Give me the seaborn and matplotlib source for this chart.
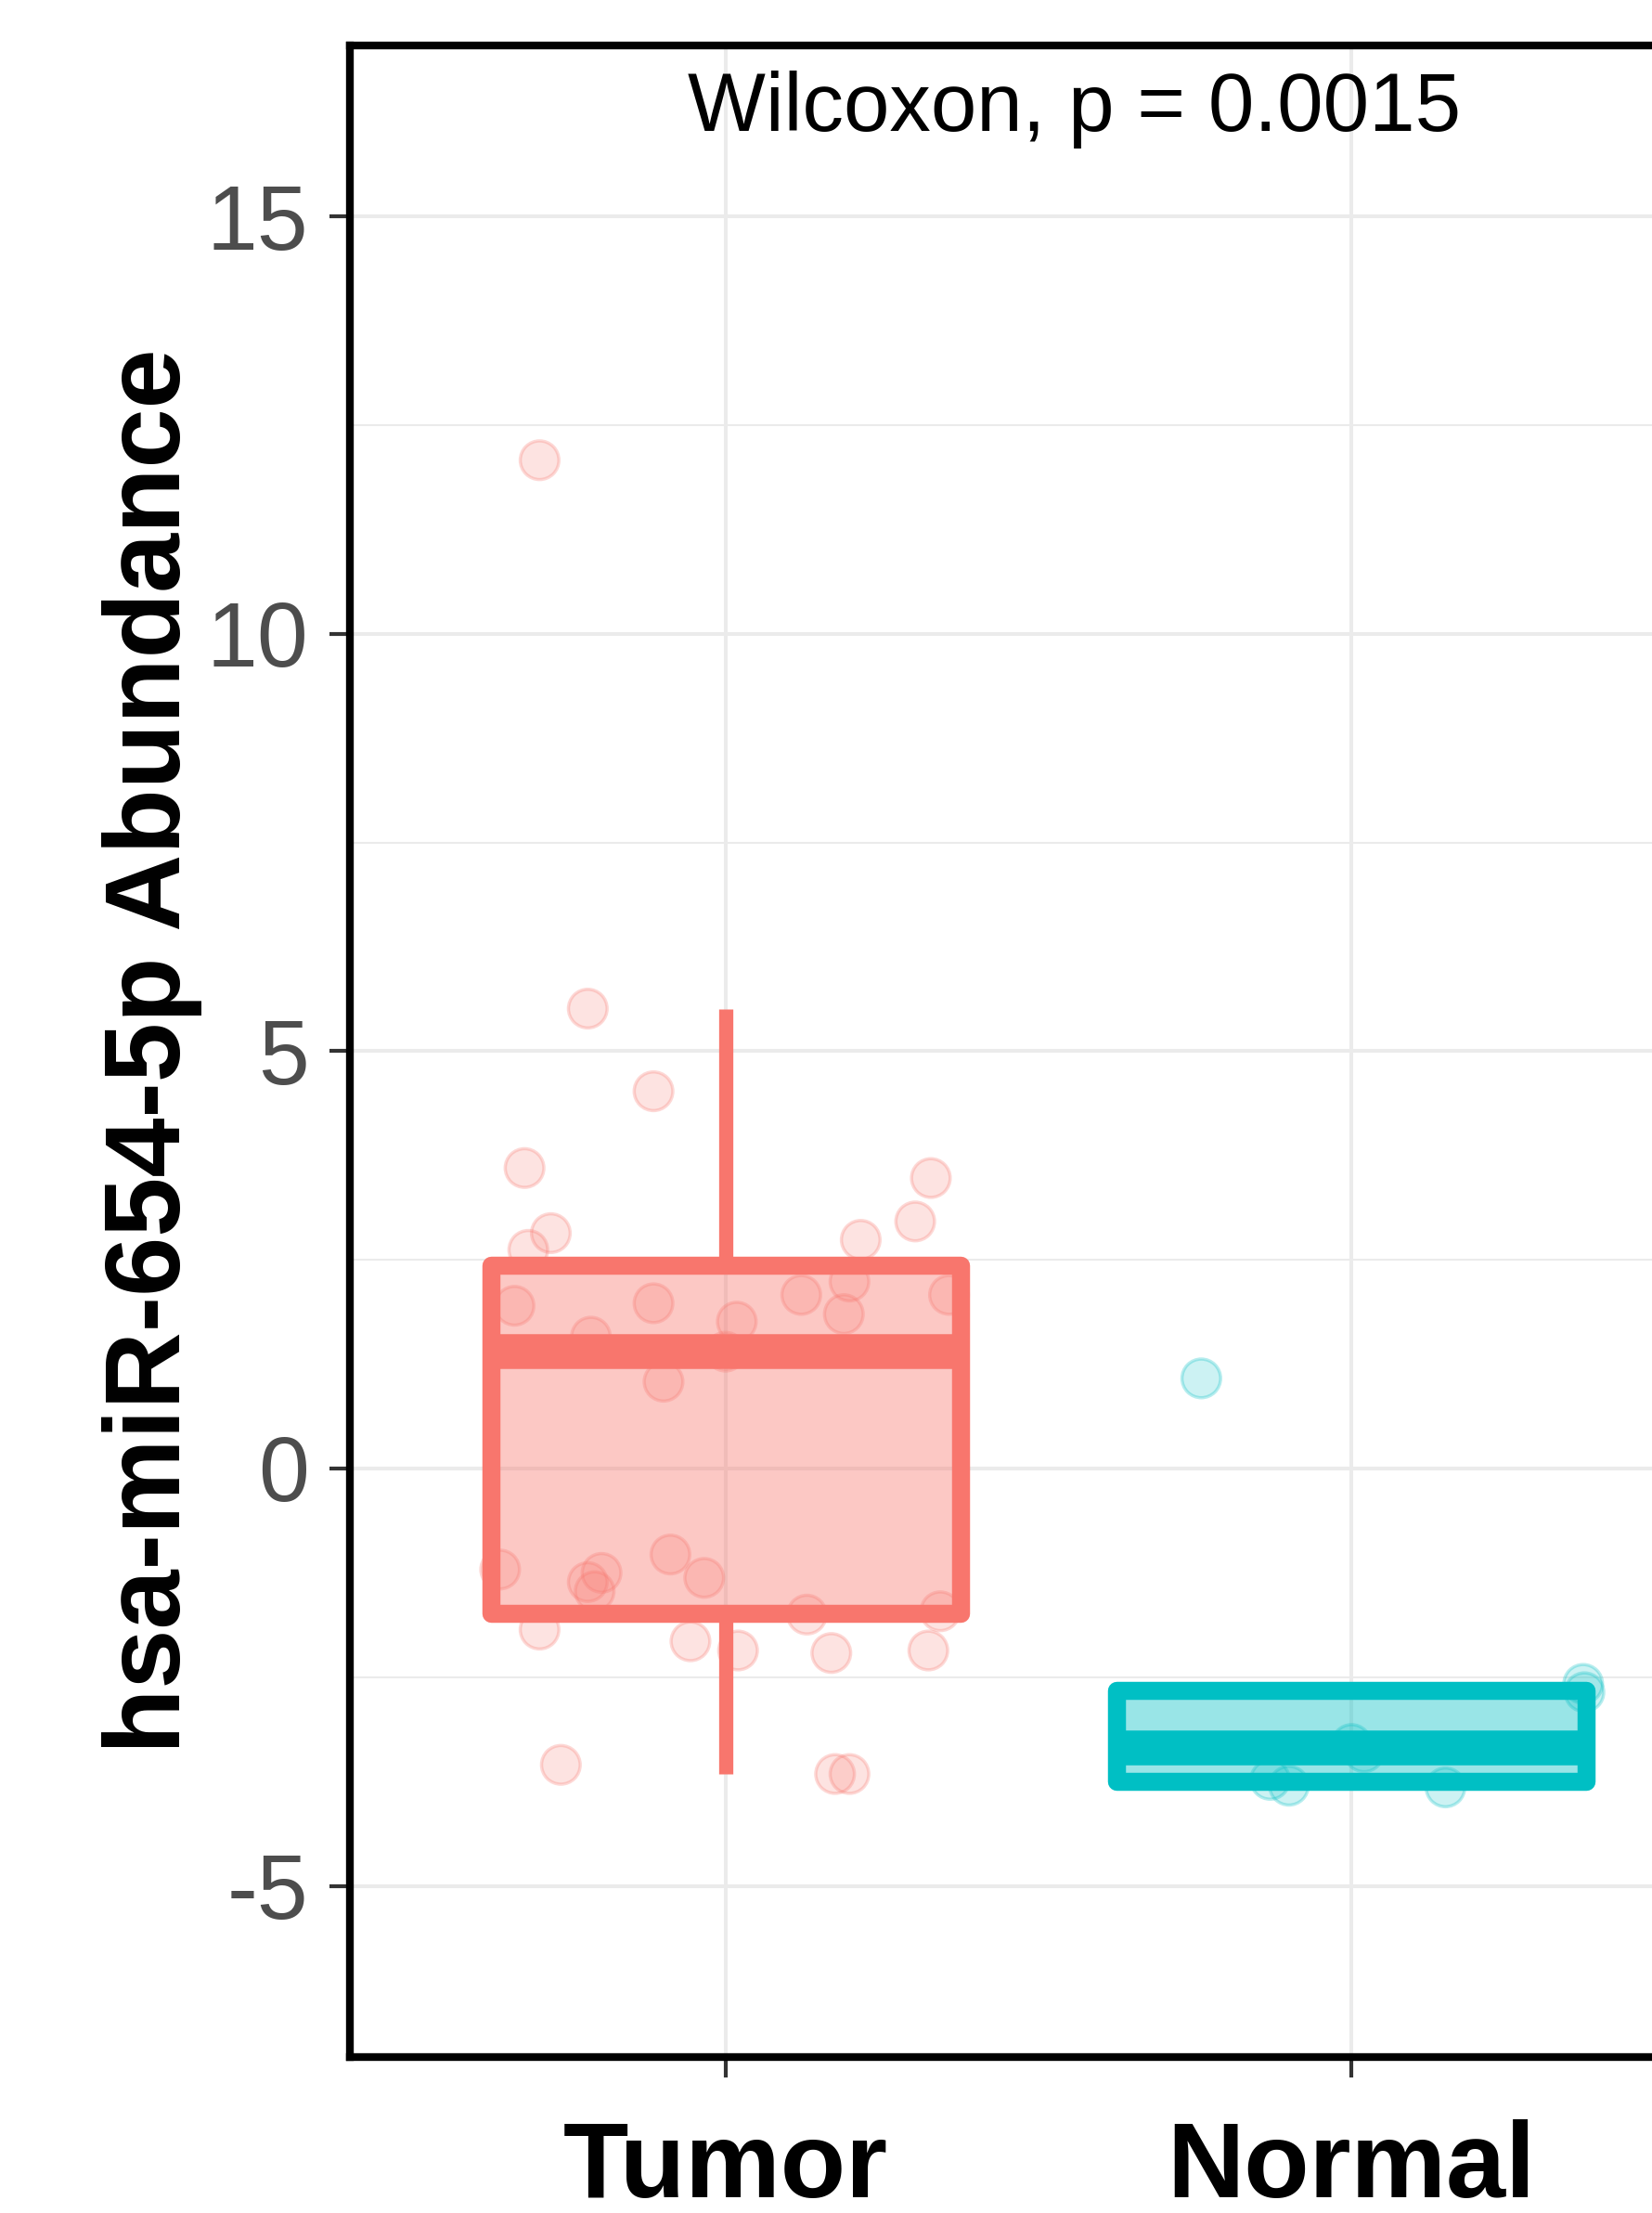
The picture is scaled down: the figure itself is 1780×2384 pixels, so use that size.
import numpy as np
import pandas as pd
import matplotlib
matplotlib.use("Agg")
import matplotlib.pyplot as plt
from matplotlib.colors import to_rgba
from matplotlib.ticker import MultipleLocator
import seaborn as sns

# groups and ggplot default colours
groups = ["Tumor", "Normal"]
colors = ["#F8766D", "#00BFC4"]

# values (jitter = horizontal offset from the group centre)
tumor_values = [12.08, 5.51, 4.52, 3.60, 2.82, 2.62, 3.48, 2.96, 2.74, 2.24,
                2.08, 1.85, 2.08, 1.95, 1.98, 1.76, 1.58, 1.04, -1.21, -1.03,
                -1.31, -1.25, -1.36, -1.47, -1.71, -1.75, -1.93, -2.07, -2.18,
                -2.21, -2.18, -3.55, -3.66, -3.66, 1.40]
tumor_jitter = [-0.297, -0.220, -0.115, -0.321, -0.279, -0.315, 0.328, 0.303,
                0.216, 0.198, 0.121, 0.189, 0.357, -0.337, -0.115, 0.018,
                -0.215, -0.099, -0.360, -0.088, -0.034, -0.198, -0.220, -0.209,
                0.343, 0.130, -0.297, -0.056, 0.020, 0.169, 0.324, -0.263,
                0.175, 0.198, 0.0]
normal_values = [1.08, -2.58, -2.68, -3.30, -3.40, -3.73, -3.80, -3.82]
normal_jitter = [-0.240, 0.370, 0.372, 0.0, 0.02, -0.13, -0.10, 0.15]

p_label = "Wilcoxon, p = 0.0015"
ylabel = "hsa-miR-654-5p Abundance"

df = pd.DataFrame({
    "group": ["Tumor"] * len(tumor_values) + ["Normal"] * len(normal_values),
    "value": tumor_values + normal_values,
    "jitter": tumor_jitter + normal_jitter,
})
df["pos"] = df["group"].map({g: i for i, g in enumerate(groups)}) + df["jitter"]
pal = dict(zip(groups, colors))

sns.set_style("ticks")
plt.rcParams["font.family"] = ["Liberation Sans", "DejaVu Sans"]
plt.rcParams["axes.unicode_minus"] = False

fig = plt.figure(figsize=(17.8, 23.84), dpi=100)
ax = fig.add_axes([0.2118, 0.0705, 0.8337, 0.909])

# jittered points
sns.scatterplot(data=df, x="pos", y="value", hue="group", palette=pal,
                s=900, linewidth=2.5, legend=False, ax=ax, zorder=1)
pts = ax.collections[0]
rgb = [pal[g] for g in df["group"]]
pts.set_facecolors([to_rgba(c, 0.2) for c in rgb])
pts.set_edgecolors([to_rgba(c, 0.28) for c in rgb])

# boxes
sns.boxplot(data=df, x="group", y="value", hue="group", order=groups,
            palette=pal, width=0.75, showfliers=False, showcaps=False,
            linewidth=14, legend=False, ax=ax,
            medianprops=dict(linewidth=27, solid_capstyle="butt"),
            whiskerprops=dict(linewidth=11, solid_capstyle="butt"))
for cont, c in zip(ax.containers, colors):
    for b in cont.boxes:
        b.set_facecolor(to_rgba(c, 0.4))
        b.set_edgecolor(c)
        b.set_linewidth(14)
        b.set_joinstyle("round")
        b.set_zorder(2)
    for ln in list(cont.whiskers) + list(cont.medians):
        ln.set_color(c)
        ln.set_zorder(2.5)

ax.set_xlim(-0.6, 1.6)
ax.set_ylim(-7.05, 17.05)
ax.set_xticks([0, 1])
ax.set_xticklabels(groups, fontsize=83, fontweight="bold", color="black")
ax.yaxis.set_major_locator(MultipleLocator(5))
ax.yaxis.set_minor_locator(MultipleLocator(2.5))
ax.grid(which="major", color="#EBEBEB", linewidth=2.9)
ax.grid(which="minor", axis="y", color="#EBEBEB", linewidth=1.5)
ax.set_axisbelow(True)
ax.tick_params(axis="y", which="minor", length=0)
ax.tick_params(axis="both", which="major", length=16, width=3, color="#333333")
ax.tick_params(axis="y", labelsize=71, labelcolor="#4D4D4D", pad=16)
ax.tick_params(axis="x", pad=32)
ax.set_xlabel("")
ax.set_ylabel(ylabel, fontsize=83, fontweight="bold", color="black")
ax.yaxis.set_label_coords(-0.1435, 0.5)
ax.yaxis.label.set_verticalalignment("center")
for sp in ax.spines.values():
    sp.set_visible(True)
    sp.set_linewidth(6)
    sp.set_color("black")

ax.text(0.557, 16.03, p_label, ha="center", va="baseline", fontsize=64, color="black")

fig.savefig("out.png", dpi=100)
